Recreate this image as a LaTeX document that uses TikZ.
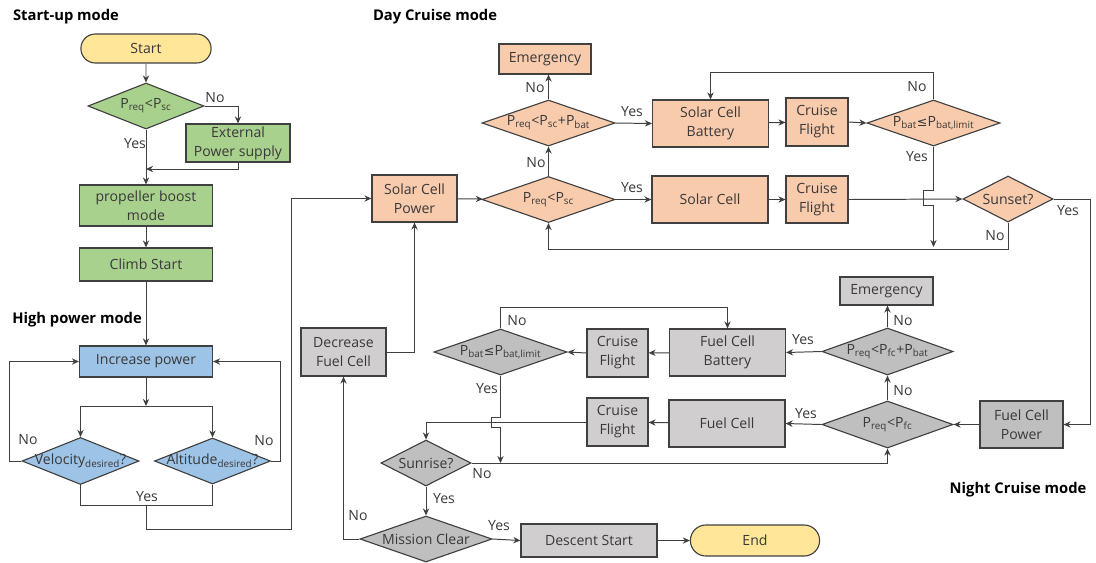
\documentclass[tikz,border=0pt]{standalone}
\usepackage{fontspec}
\setmainfont{Open Sans}
\newfontfamily\symfont{DejaVu Sans}
\usetikzlibrary{shapes.geometric,shapes.misc,arrows.meta}

\definecolor{linec}{HTML}{404040}
\definecolor{txtc}{HTML}{3A3838}
\definecolor{yellowF}{HTML}{FFE699}
\definecolor{greenF}{HTML}{A9D18E}
\definecolor{blueF}{HTML}{9DC3E6}
\definecolor{orangeF}{HTML}{F8CBAD}
\definecolor{grayF}{HTML}{D0CECE}
\definecolor{grayD}{HTML}{BFBFBF}

\newcommand{\pw}[1]{P\textsubscript{#1}}
\newcommand{\leqs}{{\symfont\fontsize{9}{10}\selectfont ≤}}

\tikzset{
  base/.style={draw=linec, line width=0.8pt, text=txtc, align=center,
    font=\fontsize{10}{13.5}\selectfont},
  sz/.style 2 args={minimum width=#1cm, minimum height=#2cm},
  box/.style={base, rectangle, inner sep=1pt},
  term/.style={base, rounded rectangle, fill=yellowF, inner sep=1pt},
  dec/.style={base, diamond, aspect=2.6, inner sep=-6pt},
  lbl/.style={text=txtc, inner sep=0pt, font=\fontsize{10}{12}\selectfont},
  title/.style={text=black, inner sep=0pt, font=\fontsize{10.5}{13}\selectfont\bfseries},
  arr/.style={draw=linec, line width=0.7pt, -{Stealth[length=5pt,width=4.5pt]}},
  ln/.style={draw=linec, line width=0.7pt}
}

\begin{document}
\begin{tikzpicture}[x=0.025cm,y=-0.025cm]
\useasboundingbox (0,0) rectangle (1096,562);

% Mode titles
\node[title] (tStart) at (66,17) {Start-up mode};
\node[title] (tHigh) at (77,320) {High power mode};
\node[title] (tDay) at (435,17) {Day Cruise mode};
\node[title] (tNight) at (1018,490) {Night Cruise mode};

% Start-up mode
\node[term, sz={3.325}{0.725}] (start) at (146,48.5) {Start};
\node[dec, fill=greenF, sz={2.9}{1.15}] (dstart) at (146,106) {\pw{req}<\pw{sc}};
\node[box, fill=greenF, sz={2.6}{0.95}] (ext) at (238,143) {External\\Power supply};
\node[box, fill=greenF, sz={3.325}{1.025}] (prop) at (146,205.5) {propeller boost\\mode};
\node[box, fill=greenF, sz={3.325}{0.825}] (climb) at (146,264.5) {Climb Start};

% High power mode
\node[box, fill=blueF, sz={3.325}{0.775}] (inc) at (146,361.5) {Increase power};
\node[dec, fill=blueF, sz={2.925}{1.175}] (vel) at (80.5,461) {Velocity\textsubscript{desired}?};
\node[dec, fill=blueF, sz={2.9}{1.15}] (alt) at (212.5,461) {Altitude\textsubscript{desired}?};

% Day cruise mode
\node[box, fill=orangeF, sz={2.125}{1.175}] (scp) at (414.5,198.5) {Solar Cell\\Power};
\node[dec, fill=orangeF, sz={3.325}{1.15}] (d1) at (548.5,199.5) {\pw{req}<\pw{sc}};
\node[dec, fill=orangeF, sz={3.325}{1.15}] (d2) at (548.5,123) {\pw{req}<\pw{sc}+\pw{bat}};
\node[box, fill=orangeF, sz={2.3}{0.75}] (emg1) at (545,59) {Emergency};
\node[box, fill=orangeF, sz={2.9}{1.175}] (sc) at (710,199.5) {Solar Cell};
\node[box, fill=orangeF, sz={2.9}{1.175}] (scb) at (710.5,123.5) {Solar Cell\\Battery};
\node[box, fill=orangeF, sz={1.55}{1.175}] (cf1) at (817,199.5) {Cruise\\Flight};
\node[box, fill=orangeF, sz={1.55}{1.2}] (cf2) at (817,122) {Cruise\\Flight};
\node[dec, fill=orangeF, sz={3.325}{1.15}] (dbat) at (933.5,123) {\pw{bat}\leqs\pw{bat,limit}};
\node[dec, fill=orangeF, sz={2.25}{1.15}] (sunset) at (1008,199) {Sunset?};

% Night cruise mode
\node[box, fill=grayD, sz={2.075}{1.175}] (fcp) at (1021.5,424.5) {Fuel Cell\\Power};
\node[dec, fill=grayD, sz={3.275}{1.175}] (n1) at (887.5,424.5) {\pw{req}<\pw{fc}};
\node[dec, fill=grayD, sz={3.275}{1.175}] (n2) at (887.5,351.5) {\pw{req}<\pw{fc}+\pw{bat}};
\node[box, fill=grayF, sz={2.325}{0.7}] (emg2) at (886.5,291) {Emergency};
\node[box, fill=grayF, sz={2.9}{1.175}] (fc) at (727,423.5) {Fuel Cell};
\node[box, fill=grayF, sz={2.9}{1.175}] (fcb) at (727.5,352.5) {Fuel Cell\\Battery};
\node[box, fill=grayF, sz={1.525}{1.2}] (cfn1) at (617.5,422) {Cruise\\Flight};
\node[box, fill=grayF, sz={1.525}{1.2}] (cfn2) at (617.5,353) {Cruise\\Flight};
\node[dec, fill=grayD, sz={3.325}{1.15}] (nbat) at (500.5,352) {\pw{bat}\leqs\pw{bat,limit}};
\node[dec, fill=grayD, sz={2.25}{1.15}] (sunrise) at (426,463) {Sunrise?};
\node[dec, fill=grayD, sz={3.3}{1.15}] (mc) at (426,539) {Mission Clear};
\node[box, fill=grayF, sz={2.125}{1.2}] (dfc) at (343.5,352) {Decrease\\Fuel Cell};
\node[box, fill=grayF, sz={3.4}{0.825}] (desc) at (589,540.5) {Descent Start};
\node[term, sz={3.3}{0.775}] (endn) at (755,540.5) {End};

% Start-up connectors
\draw[arr] (start) -- (dstart);
\draw[arr] (dstart.east) -| (ext.north);
\draw[arr] (ext.south) |- (dstart.south |- 0,169);
\draw[arr] (dstart.south) -- (prop.north);
\draw[arr] (prop) -- (climb);
\draw[arr] (climb) -- (inc);

% High power connectors
\draw[arr] (inc.south) -- (inc.south |- 0,406);
\draw[arr] (inc.south |- 0,406) -| (vel.north);
\draw[arr] (inc.south |- 0,406) -| (alt.north);
\draw[arr] (vel.west) -- ++(-12,0) |- (inc.west);
\draw[arr] (alt.east) -- ++(9,0) |- (inc.east);
\draw[ln] (vel.south) |- (alt.south |- 0,505) -- (alt.south);
\draw[arr] (inc.south |- 0,505) |- (291,529) |- (scp.west);

% Day cruise connectors
\draw[arr] (scp) -- (d1);
\draw[arr] (d1.east) -- (sc.west);
\draw[arr] (sc) -- (cf1);
\draw[arr] (cf1.east) -- (sunset.west);
\draw[arr] (d1.north) -- (d2.south);
\draw[arr] (d2.north) -- (d2.north |- emg1.south);
\draw[arr] (d2.east) -- (scb.west);
\draw[arr] (scb) -- (cf2);
\draw[arr] (cf2.east) -- (dbat.west);
\draw[arr] (dbat.north) -- ++(0,-27) -| (scb.north);
\draw[arr] (dbat.south) -- ++(0,44) -- ++(-10,0) -- ++(0,15) -- ++(10,0) -- (dbat.south |- 0,247);
\draw[arr] (sunset.south) -- ++(0,27) -| (d1.south);
\draw[arr] (sunset.east) -- ++(37,0) |- (fcp.east);

% Night cruise connectors
\draw[arr] (fcp.west) -- (n1.east);
\draw[arr] (n1.west) -- (fc.east);
\draw[arr] (fc) -- (cfn1);
\draw[arr] (cfn1.west) -| (sunrise.north);
\draw[arr] (n1.north) -- (n2.south);
\draw[arr] (n2.north) -- (n2.north |- emg2.south);
\draw[arr] (n2.west) -- (fcb.east);
\draw[arr] (fcb) -- (cfn2);
\draw[arr] (cfn2.west) -- (nbat.east);
\draw[arr] (nbat.north) -- ++(0,-21) -| (fcb.north);
\draw[arr] (nbat.south) -- ++(0,42) -- ++(-9,0) -- ++(0,10) -- ++(9,0) -- (nbat.south |- sunrise.east);
\draw[arr] (sunrise.east) -| (n1.south);
\draw[arr] (sunrise.south) -- (mc.north);
\draw[arr] (mc.west) -| (dfc.south);
\draw[arr] (dfc.east) -| (scp.south);
\draw[arr] (mc.east) -- (desc.west);
\draw[arr] (desc) -- (endn);

% Yes / No labels
\node[lbl] (l1) at (215,98) {No};
\node[lbl] (l2) at (135,144) {Yes};
\node[lbl] (l3) at (28,440) {No};
\node[lbl] (l4) at (264,441) {No};
\node[lbl] (l5) at (147,497) {Yes};
\node[lbl] (l6) at (535,88) {No};
\node[lbl] (l7) at (632,112) {Yes};
\node[lbl] (l8) at (536,163) {No};
\node[lbl] (l9) at (632,188) {Yes};
\node[lbl] (l10) at (917,87) {No};
\node[lbl] (l11) at (917,157) {Yes};
\node[lbl] (l12) at (1068,211) {Yes};
\node[lbl] (l13) at (995,236) {No};
\node[lbl] (l14) at (903,321) {No};
\node[lbl] (l15) at (803,340) {Yes};
\node[lbl] (l16) at (903,391) {No};
\node[lbl] (l17) at (806,414) {Yes};
\node[lbl] (l18) at (517,321) {No};
\node[lbl] (l19) at (487,389) {Yes};
\node[lbl] (l20) at (482,474) {No};
\node[lbl] (l21) at (444,499) {Yes};
\node[lbl] (l22) at (358,516) {No};
\node[lbl] (l23) at (499,526) {Yes};
\end{tikzpicture}
\end{document}
